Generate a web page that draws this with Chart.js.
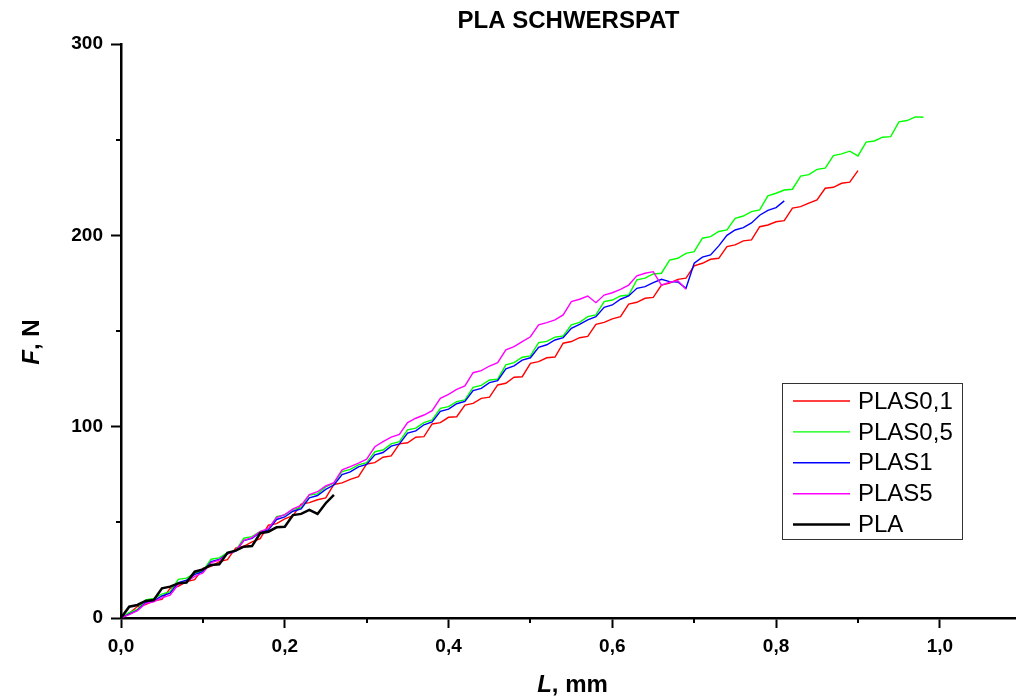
<!DOCTYPE html>
<html>
<head>
<meta charset="utf-8">
<script src="https://cdn.jsdelivr.net/npm/chart.js@4.4.0/dist/chart.umd.min.js"></script>
<style>
html,body{margin:0;padding:0;background:#fff;}
#wrap{width:1016px;height:699px;position:relative;}
</style>
</head>
<body>
<div id="wrap"><canvas id="c" width="1016" height="699"></canvas></div>
<script>
// ---- Data ----
const chartTitle = 'PLA SCHWERSPAT';
const seriesNames = ['PLAS0,1', 'PLAS0,5', 'PLAS1', 'PLAS5', 'PLA'];
const seriesColors = ['#ff0000', '#00ff00', '#0000ff', '#ff00ff', '#000000'];

// L, mm (shared sample grid)
const L = [0.00,0.01,0.02,0.03,0.04,0.05,0.06,0.07,0.08,0.09,
           0.10,0.11,0.12,0.13,0.14,0.15,0.16,0.17,0.18,0.19,
           0.20,0.21,0.22,0.23,0.24,0.25,0.26,0.27,0.28,0.29,
           0.30,0.31,0.32,0.33,0.34,0.35,0.36,0.37,0.38,0.39,
           0.40,0.41,0.42,0.43,0.44,0.45,0.46,0.47,0.48,0.49,
           0.50,0.51,0.52,0.53,0.54,0.55,0.56,0.57,0.58,0.59,
           0.60,0.61,0.62,0.63,0.64,0.65,0.66,0.67,0.68,0.69,
           0.70,0.71,0.72,0.73,0.74,0.75,0.76,0.77,0.78,0.79,
           0.80,0.81,0.82,0.83,0.84,0.85,0.86,0.87,0.88,0.89,
           0.90,0.91,0.92,0.93,0.94,0.95,0.96,0.97,0.98];

// F, N
const F_PLAS01 = [0,2.5,6.0,7.0,9.0,9.8,15.5,16.5,19.0,20.0,
  26.0,27.0,29.5,30.5,36.5,37.5,39.8,41.5,48.5,49.3,
  51.8,53.5,59.5,60.3,61.8,62.8,69.8,70.6,72.5,73.9,
  80.5,81.2,84.0,84.7,91.0,91.6,94.5,94.8,101.4,102.1,
  104.9,105.2,111.3,112.2,114.8,115.4,121.8,122.7,125.8,126.1,
  133.1,134.0,136.0,136.4,143.6,144.5,146.5,147.2,153.5,154.5,
  156.3,157.5,164.1,165.0,167.1,167.6,174.0,175.0,177.0,177.6,
  184.0,185.4,187.5,188.0,194.1,195.0,197.1,197.6,204.5,205.4,
  207.1,207.7,214.2,215.0,216.8,218.5,224.6,225.1,227.2,227.8,
  233.8];
const F_PLAS05 = [0,2.8,4.5,9.5,10.2,12.5,13.8,20.2,20.8,23.5,
  24.6,30.7,31.4,34.2,35.2,41.7,42.5,45.3,46.3,53.0,
  53.8,56.8,57.6,64.3,64.9,68.5,70.4,76.5,77.7,80.0,
  81.2,86.9,87.8,91.0,92.2,98.3,99.2,102.1,103.5,109.6,
  110.5,113.1,114.0,120.6,121.6,124.4,124.8,132.3,133.5,136.3,
  137.0,143.9,144.6,146.8,147.4,153.2,154.5,157.5,158.4,165.4,
  166.2,168.3,168.8,176.7,177.6,179.8,180.2,187.1,188.0,190.6,
  191.5,198.5,199.3,202.0,202.8,208.9,210.1,212.4,213.3,220.6,
  222.0,223.7,224.1,231.0,231.7,234.5,235.1,241.7,242.6,244.0,
  241.5,248.7,249.3,251.3,251.6,259.3,260.0,261.9,261.7];
const F_PLAS1 = [0,2.0,4.0,8.0,9.0,11.5,13.0,18.5,19.8,22.8,
  24.2,29.5,30.6,33.6,35.0,40.5,41.6,44.8,46.0,51.5,
  52.8,55.8,57.0,62.8,64.0,67.2,69.5,75.0,76.4,79.0,
  80.3,85.3,86.5,89.8,91.0,96.6,97.8,101.0,102.5,108.0,
  109.2,112.0,113.2,118.8,120.0,123.0,124.0,130.2,131.8,134.8,
  136.0,141.5,142.8,145.3,146.5,151.4,153.5,155.8,157.5,162.4,
  163.6,166.6,168.3,172.3,173.2,175.3,177.0,175.8,175.6,172.3,
  185.4,188.6,189.8,194.5,200.0,202.8,204.0,206.5,210.5,213.0,
  214.5,218.0];
const F_PLAS5 = [0,1.8,3.8,7.5,8.5,10.5,12.0,17.5,19.0,21.8,
  23.5,29.0,30.2,33.5,35.0,40.6,42.0,45.2,46.8,52.5,
  54.0,57.0,58.8,64.5,66.0,69.0,70.7,77.4,79.1,80.9,
  83.0,89.5,92.2,94.5,96.0,102.1,104.4,106.1,108.4,114.8,
  116.9,119.5,121.3,128.2,129.3,131.7,133.5,140.1,141.8,144.4,
  147.0,153.2,154.4,155.8,158.4,165.4,166.6,168.3,164.8,168.8,
  170.0,171.8,174.0,178.8,180.2,181.0,174.0,175.5,176.3,171.8];
const F_PLA = [0,5.9,6.8,8.9,9.4,15.5,16.4,18.1,18.5,24.2,
  25.4,27.7,28.1,34.1,35.2,37.3,37.6,44.3,45.1,47.4,
  47.7,53.8,54.4,56.5,54.4,60.0,64.3];

const seriesValues = [F_PLAS01, F_PLAS05, F_PLAS1, F_PLAS5, F_PLA];
const seriesWidths = [1.4, 1.4, 1.4, 1.4, 2.5];

// Axis ticks
const xMin = 0, xMax = 1.093, xStep = 0.1;
const yMin = 0, yMax = 300, yStep = 50;
const xMinorTicks = [0.1, 0.3, 0.5, 0.7, 0.9];
const yMinorTicks = [50, 150, 250];

const FONT = '"Liberation Sans", Arial, Helvetica, sans-serif';

const datasets = seriesNames.map((name, i) => ({
  label: name,
  data: seriesValues[i].map((f, k) => ({x: L[k], y: f})),
  borderColor: seriesColors[i],
  backgroundColor: seriesColors[i],
  borderWidth: seriesWidths[i],
  pointRadius: 0,
  tension: 0,
  fill: false,
  order: seriesNames.length - i
}));

const isMajorX = v => Math.round(v * 10) % 2 === 0;
const isMajorY = v => Math.round(v) % 100 === 0;

const minorTicksPlugin = {
  id: 'minorTicks',
  afterDraw(chart) {
    const ctx = chart.ctx;
    const xs = chart.scales.x, ys = chart.scales.y;
    const area = chart.chartArea;
    ctx.save();
    ctx.strokeStyle = '#000';
    ctx.lineWidth = 2;
    xMinorTicks.forEach(v => {
      const px = Math.round(xs.getPixelForValue(v));
      ctx.beginPath(); ctx.moveTo(px, area.bottom); ctx.lineTo(px, area.bottom + 5); ctx.stroke();
    });
    yMinorTicks.forEach(v => {
      const py = Math.round(ys.getPixelForValue(v));
      ctx.beginPath(); ctx.moveTo(area.left, py); ctx.lineTo(area.left - 5, py); ctx.stroke();
    });
    ctx.restore();
  }
};

const axisTitlesPlugin = {
  id: 'axisTitles',
  afterDraw(chart) {
    const ctx = chart.ctx;
    const area = chart.chartArea;
    ctx.save();
    ctx.fillStyle = '#000';
    ctx.textBaseline = 'alphabetic';
    ctx.textAlign = 'left';
    const italic = 'italic bold 24px ' + FONT;
    const bold = 'bold 24px ' + FONT;
    // X title: "L, mm"
    ctx.font = italic; const wL = ctx.measureText('L').width;
    ctx.font = bold; const wR = ctx.measureText(', mm').width;
    let cx = (area.left + area.right) / 2 + 4;
    let sx = cx - (wL + wR) / 2;
    ctx.font = italic; ctx.fillText('L', sx, 692);
    ctx.font = bold; ctx.fillText(', mm', sx + wL, 692);
    // Y title: "F, N"
    ctx.font = italic; const wF = ctx.measureText('F').width;
    ctx.font = bold; const wN = ctx.measureText(', N').width;
    ctx.translate(39, 342);
    ctx.rotate(-Math.PI / 2);
    sx = -(wF + wN) / 2;
    ctx.font = italic; ctx.fillText('F', sx, 0);
    ctx.font = bold; ctx.fillText(', N', sx + wF, 0);
    ctx.restore();
  }
};

const legendBox = {left: 782.5, top: 383.5, right: 962.5, bottom: 539.5};
const legendPlugin = {
  id: 'boxLegend',
  afterDraw(chart) {
    const ctx = chart.ctx;
    ctx.save();
    ctx.fillStyle = '#fff';
    ctx.fillRect(legendBox.left, legendBox.top, legendBox.right - legendBox.left, legendBox.bottom - legendBox.top);
    ctx.strokeStyle = '#333';
    ctx.lineWidth = 1;
    ctx.strokeRect(legendBox.left, legendBox.top, legendBox.right - legendBox.left, legendBox.bottom - legendBox.top);
    ctx.font = '24px ' + FONT;
    ctx.textBaseline = 'middle';
    ctx.textAlign = 'left';
    const rowH = 30.9;
    chart.data.datasets.forEach((ds, i) => {
      const y = 401 + i * rowH;
      ctx.strokeStyle = ds.borderColor;
      ctx.lineWidth = ds.borderWidth;
      ctx.beginPath(); ctx.moveTo(793, y); ctx.lineTo(850, y); ctx.stroke();
      ctx.fillStyle = '#000';
      ctx.fillText(ds.label, 858, y + 1);
    });
    ctx.restore();
  }
};

new Chart(document.getElementById('c'), {
  type: 'line',
  data: { datasets },
  options: {
    responsive: false,
    animation: false,
    devicePixelRatio: 1,
    layout: { padding: 0 },
    plugins: {
      legend: { display: false },
      tooltip: { enabled: false },
      title: {
        display: true,
        text: chartTitle,
        fullSize: false,
        color: '#000',
        font: { family: FONT, size: 24, weight: 'bold' },
        padding: { top: 7, bottom: 8.2 }
      }
    },
    scales: {
      x: {
        type: 'linear',
        min: xMin, max: xMax,
        afterFit: s => { s.height = 81; },
        border: { display: true, color: '#000', width: 2.5 },
        grid: {
          drawOnChartArea: false,
          drawTicks: true,
          tickLength: 10,
          tickWidth: 2,
          tickColor: c => (c.tick && isMajorX(c.tick.value)) ? '#000' : 'rgba(0,0,0,0)'
        },
        ticks: {
          stepSize: xStep,
          includeBounds: false,
          autoSkip: false,
          maxRotation: 0,
          padding: 7,
          color: '#000',
          font: { family: FONT, size: 19, weight: 'bold' },
          callback: v => isMajorX(v) ? v.toFixed(1).replace('.', ',') : ''
        }
      },
      y: {
        type: 'linear',
        min: yMin, max: yMax,
        afterFit: s => { s.width = 121; },
        border: { display: true, color: '#000', width: 2.5 },
        grid: {
          drawOnChartArea: false,
          drawTicks: true,
          tickLength: 10,
          tickWidth: 2,
          tickColor: c => (c.tick && isMajorY(c.tick.value)) ? '#000' : 'rgba(0,0,0,0)'
        },
        ticks: {
          stepSize: yStep,
          autoSkip: false,
          padding: 8,
          color: '#000',
          font: { family: FONT, size: 19, weight: 'bold' },
          callback: v => isMajorY(v) ? String(v) : ''
        }
      }
    }
  },
  plugins: [minorTicksPlugin, axisTitlesPlugin, legendPlugin]
});
</script>
</body>
</html>
